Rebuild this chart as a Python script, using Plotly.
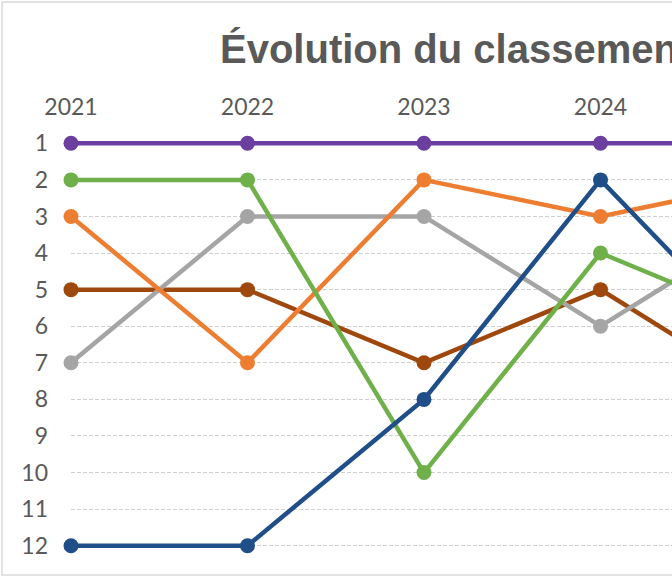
import plotly.graph_objects as go

# ranks per year (1 = best); the 2025 column is off the right edge of the view
years = [2021, 2022, 2023, 2024, 2025]

series_names = ["Série 1", "Série 2", "Série 3", "Série 4", "Série 5", "Série 6"]
series_ranks = [
    [5, 5, 7, 5, 8],      # brown
    [7, 3, 3, 6, 3],      # grey
    [3, 7, 2, 3, 2],      # orange
    [2, 2, 10, 4, 6],     # green
    [12, 12, 8, 2, 7],    # dark blue
    [1, 1, 1, 1, 1],      # purple
]
series_colors = ["#9E480E", "#A5A5A5", "#ED7D31", "#6FB04A", "#1F4E89", "#6A3FA0"]

rank_ticks = list(range(1, 13))

TEXT_GREY = "#595959"

fig = go.Figure()
for name, ranks, color in zip(series_names, series_ranks, series_colors):
    fig.add_trace(go.Scatter(
        x=years,
        y=ranks,
        name=name,
        mode="lines+markers",
        line=dict(color=color, width=4.5),
        marker=dict(color=color, size=15),
        cliponaxis=False,
    ))

# plot area in pixels: left 71, top 125, bottom 564; one year = 176.5 px
year_px = 176.5
plot_w = 672 - 71
x_end = years[0] + plot_w / year_px

fig.update_layout(
    width=672,
    height=580,
    margin=dict(l=71, r=0, t=125, b=16),
    paper_bgcolor="white",
    plot_bgcolor="white",
    showlegend=False,
    title=dict(
        text="Évolution du classement des équipes",
        font=dict(family="Liberation Sans", size=40, color=TEXT_GREY, weight="bold"),
        xref="container", x=220 / 672, xanchor="left",
        yref="container", y=1 - 49 / 580, yanchor="middle",
    ),
    xaxis=dict(
        side="top",
        range=[years[0], x_end],
        tickmode="array",
        tickvals=years,
        ticktext=[str(y) for y in years],
        tickfont=dict(family="Lato", size=23, color=TEXT_GREY),
        showgrid=False,
        zeroline=False,
        showline=False,
        ticks="",
        ticklabelstandoff=4,
    ),
    yaxis=dict(
        range=[12.5, 0.5],
        tickmode="array",
        tickvals=rank_ticks,
        ticktext=[str(r) for r in rank_ticks],
        tickfont=dict(family="Lato", size=23, color=TEXT_GREY),
        showgrid=True,
        gridcolor="#D0D0D0",
        gridwidth=1,
        griddash="4px,2px",
        zeroline=False,
        showline=False,
        ticks="",
        ticklabelstandoff=22,
    ),
)

# light frame around the chart (right side falls outside the view)
plot_h = 580 - 125 - 16
fig.add_shape(
    type="rect",
    xref="paper", yref="paper",
    x0=(2 - 71) / plot_w, x1=1.2,
    y0=-(575 - (580 - 16)) / plot_h, y1=1 + (125 - 2) / plot_h,
    line=dict(color="#D9D9D9", width=1.5),
    layer="below",
)

# page body has a default 8px margin; drop it so the figure sits at the corner
fig.write_html("out.html", config={"displayModeBar": False},
               post_script="document.body.style.margin='0';")
